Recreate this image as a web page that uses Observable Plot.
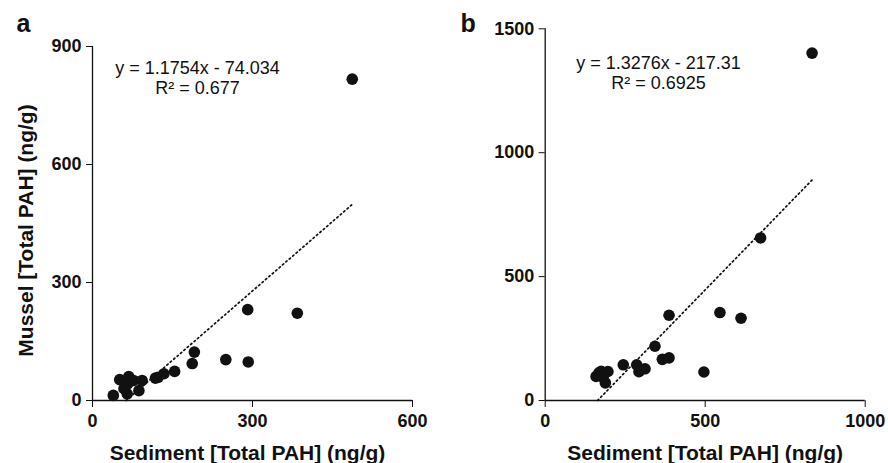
<!DOCTYPE html>
<html>
<head>
<meta charset="utf-8">
<script src="https://cdn.jsdelivr.net/npm/d3@7"></script>
<script src="https://cdn.jsdelivr.net/npm/@observablehq/plot@0.6"></script>
<style>
  body { margin: 0; background: #fff; }
  #wrap { display: flex; width: 888px; height: 463px; }
</style>
</head>
<body>
<div id="wrap"></div>
<script>
// Panel a data
const sedimentA = [39, 51, 59, 65, 66, 68, 77, 87, 93, 118, 123, 134, 154, 187, 191, 250, 291, 292, 384, 487];
const musselA   = [13, 53, 30, 17, 42, 61, 51, 25, 51, 57, 59, 68, 74, 94, 123, 104, 231, 98, 222, 817];
const slopeA = 1.1754, interceptA = -74.034;
const eqA = ["y = 1.1754x - 74.034", "R² = 0.677"];
const xTicksA = [0, 300, 600], yTicksA = [0, 300, 600, 900];

// Panel b data
const sedimentB = [159, 168, 175, 181, 188, 196, 244, 286, 293, 312, 343, 366, 387, 387, 496, 546, 612, 673, 834];
const musselB   = [97, 112, 118, 94, 71, 117, 144, 144, 116, 128, 219, 166, 172, 344, 115, 355, 332, 656, 1402];
const slopeB = 1.3276, interceptB = -217.31;
const eqB = ["y = 1.3276x - 217.31", "R² = 0.6925"];
const xTicksB = [0, 500, 1000], yTicksB = [0, 500, 1000, 1500];

const xLabel = "Sediment [Total PAH] (ng/g)";
const yLabel = "Mussel [Total PAH] (ng/g)";

function panel({letter, sed, mus, slope, intercept, eq, xTicks, yTicks, xMax, yMax, margins, yTitle, eqDx, eqDy}) {
  const data = sed.map((x, i) => ({x, y: mus[i]}));
  const x0 = -intercept / slope, x1 = d3.max(sed);
  const trend = [x0, x1].map(x => ({x, y: slope * x + intercept}));
  const marks = [
    Plot.axisX({ticks: xTicks, tickSize: 7, tickPadding: 7, label: null, tickFormat: d => String(d)}),
    Plot.axisY({ticks: yTicks, tickSize: 6, tickPadding: 5, label: null, tickFormat: d => String(d)}),
    Plot.ruleX([0], {stroke: "#111", strokeWidth: 1.3}),
    Plot.ruleY([0], {stroke: "#111", strokeWidth: 1.3}),
    Plot.line(trend, {x: "x", y: "y", stroke: "#111", strokeWidth: 1.7, strokeDasharray: "1.5,3"}),
    Plot.dot(data, {x: "x", y: "y", r: 5.8, fill: "#111", stroke: "none"}),
    Plot.text([eq[0]], {frameAnchor: "top-left", dx: eqDx, dy: eqDy, textAnchor: "middle", lineAnchor: "middle", fontWeight: "normal", fontSize: 18}),
    Plot.text([eq[1]], {frameAnchor: "top-left", dx: eqDx, dy: eqDy + 20, textAnchor: "middle", lineAnchor: "middle", fontWeight: "normal", fontSize: 18}),
    Plot.text([xLabel], {frameAnchor: "bottom", dx: margins.xLabelDx, dy: 53, textAnchor: "middle", lineAnchor: "middle", fontSize: 21}),
    Plot.text([letter], {frameAnchor: "top-left", dx: 16 - margins.left, dy: 31 - margins.top, textAnchor: "start", lineAnchor: "bottom", fontSize: 25})
  ];
  if (yTitle) marks.push(Plot.text([yTitle], {frameAnchor: "left", dx: -66.5, dy: 7, rotate: -90, textAnchor: "middle", lineAnchor: "middle", fontSize: 21}));
  return Plot.plot({
    width: 444,
    height: 463,
    marginLeft: margins.left,
    marginRight: margins.right,
    marginTop: margins.top,
    marginBottom: margins.bottom,
    x: {domain: [0, xMax]},
    y: {domain: [0, yMax]},
    style: {fontFamily: "'Liberation Sans', Arial, sans-serif", fontSize: "18px", fontWeight: "bold", color: "#111", background: "#fff"},
    marks
  });
}

const wrap = document.getElementById("wrap");
wrap.append(panel({
  letter: "a", sed: sedimentA, mus: musselA, slope: slopeA, intercept: interceptA, eq: eqA,
  xTicks: xTicksA, yTicks: yTicksA, xMax: 600, yMax: 900,
  margins: {left: 92, right: 32, top: 46, bottom: 63, xLabelDx: -5},
  yTitle: yLabel, eqDx: 105, eqDy: 22
}));
wrap.append(panel({
  letter: "b", sed: sedimentB, mus: musselB, slope: slopeB, intercept: interceptB, eq: eqB,
  xTicks: xTicksB, yTicks: yTicksB, xMax: 1000, yMax: 1500,
  margins: {left: 100.7, right: 23.3, top: 28.3, bottom: 63, xLabelDx: 0},
  yTitle: null, eqDx: 113.3, eqDy: 34.7
}));
</script>
</body>
</html>
